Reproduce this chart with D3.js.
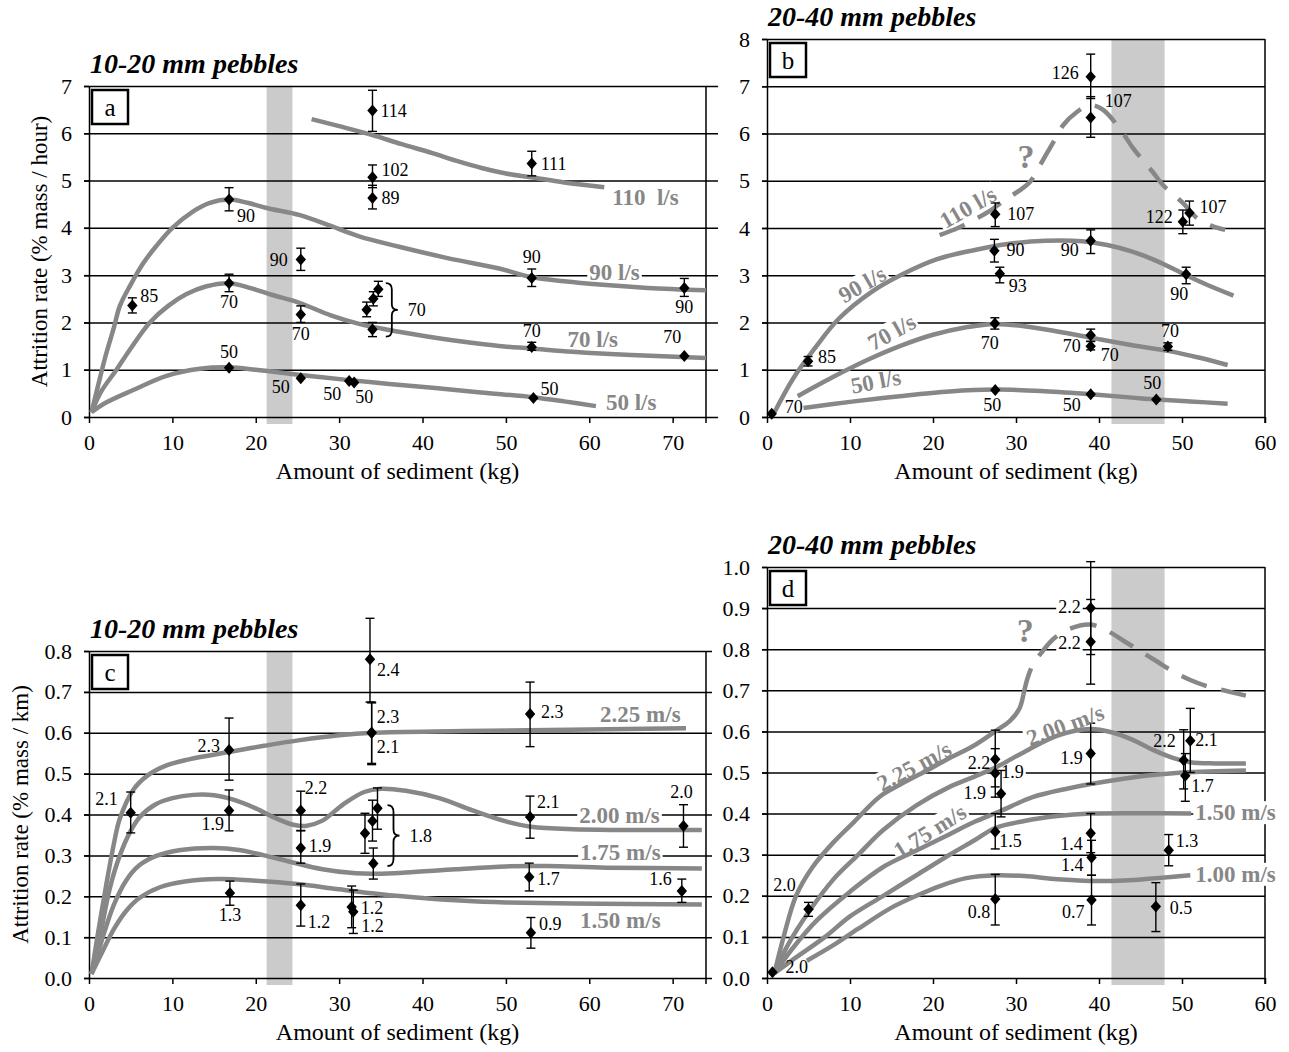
<!DOCTYPE html>
<html>
<head>
<meta charset="utf-8">
<script src="https://cdn.jsdelivr.net/npm/d3@7"></script>
<style>
  body { margin: 0; background: #fff; }
  svg { display: block; }
</style>
</head>
<body>
<svg id="chart" width="1289" height="1052"></svg>
<script>
// ---------------------------------------------------------------
// Attrition rate vs. amount of sediment, four panels (a-d)
// ---------------------------------------------------------------

// Axis ticks
const xTicks10to20 = [0, 10, 20, 30, 40, 50, 60, 70];
const xTicks20to40 = [0, 10, 20, 30, 40, 50, 60];
const yTicksA = [0, 1, 2, 3, 4, 5, 6, 7];
const yTicksB = [0, 1, 2, 3, 4, 5, 6, 7, 8];
const yTicksC = [0, 0.1, 0.2, 0.3, 0.4, 0.5, 0.6, 0.7, 0.8];
const yTicksD = [0, 0.1, 0.2, 0.3, 0.4, 0.5, 0.6, 0.7, 0.8, 0.9, 1.0];

// Shaded sediment ranges (kg)
const bandSmall = [21.3, 24.4];
const bandLarge = [41.5, 47.9];

// Measured points: [sediment kg, attrition rate, error low, error high, discharge / velocity label]
const pointsA = [
  [5.2, 2.36, 2.2, 2.52, "85"],
  [16.8, 4.6, 4.36, 4.85, "90"],
  [16.8, 2.83, 2.65, 3.02, "70"],
  [16.8, 1.04, null, null, "50"],
  [25.4, 3.33, 3.1, 3.57, "90"],
  [25.4, 2.17, 2.0, 2.35, "70"],
  [25.4, 0.82, null, null, "50"],
  [31.2, 0.76, null, null, "50"],
  [31.8, 0.73, null, null, "50"],
  [33.3, 2.27, 2.12, 2.43, ""],
  [34.1, 2.5, 2.35, 2.65, ""],
  [34.7, 2.7, 2.55, 2.87, ""],
  [34.0, 1.85, 1.7, 2.0, ""],
  [34.0, 6.48, 6.04, 6.91, "114"],
  [34.0, 5.07, 4.85, 5.33, "102"],
  [34.0, 4.63, 4.4, 4.9, "89"],
  [53.1, 5.36, 5.1, 5.62, "111"],
  [53.1, 2.94, 2.76, 3.13, "90"],
  [53.1, 1.48, 1.41, 1.58, "70"],
  [53.3, 0.4, null, null, "50"],
  [71.4, 2.73, 2.55, 2.93, "90"],
  [71.4, 1.29, null, null, "70"]
];
const pointsB = [
  [0.57, 0.07, null, null, "70"],
  [4.95, 1.18, 1.08, 1.28, "85"],
  [27.4, 3.52, 3.28, 3.76, "90"],
  [28.05, 3.03, 2.84, 3.17, "93"],
  [27.45, 1.98, 1.86, 2.1, "70"],
  [27.5, 0.57, null, null, "50"],
  [39.0, 3.73, 3.46, 3.96, "90"],
  [39.0, 1.73, 1.6, 1.86, "70"],
  [39.0, 1.5, 1.42, 1.6, "70"],
  [39.0, 0.48, null, null, "50"],
  [48.3, 1.49, 1.41, 1.57, "70"],
  [46.9, 0.37, null, null, "50"],
  [50.5, 3.02, 2.82, 3.17, "90"],
  [39.0, 7.2, 6.74, 7.68, "126"],
  [39.0, 6.34, 5.92, 6.78, "107"],
  [27.5, 4.29, 4.03, 4.53, "107"],
  [50.1, 4.13, 3.88, 4.38, "122"],
  [50.9, 4.32, 4.06, 4.57, "107"]
];
const pointsC = [
  [5.0, 0.404, 0.355, 0.455, "2.1"],
  [16.8, 0.558, 0.484, 0.636, "2.3"],
  [16.8, 0.41, 0.36, 0.46, "1.9"],
  [25.4, 0.41, 0.36, 0.457, "2.2"],
  [25.4, 0.318, 0.281, 0.361, "1.9"],
  [25.4, 0.178, 0.127, 0.23, "1.2"],
  [16.9, 0.208, 0.178, 0.237, "1.3"],
  [31.5, 0.174, 0.123, 0.225, "1.2"],
  [31.7, 0.162, 0.109, 0.215, "1.2"],
  [33.7, 0.78, 0.675, 0.88, "2.4"],
  [33.9, 0.6, 0.525, 0.673, "2.3"],
  [33.9, 0.6, 0.522, 0.675, "2.1"],
  [33.1, 0.354, 0.305, 0.403, ""],
  [34.0, 0.384, 0.335, 0.435, ""],
  [34.6, 0.415, 0.364, 0.465, ""],
  [34.1, 0.28, 0.242, 0.318, ""],
  [52.9, 0.646, 0.566, 0.724, "2.3"],
  [52.9, 0.394, 0.342, 0.445, "2.1"],
  [52.8, 0.247, 0.213, 0.281, "1.7"],
  [53.0, 0.111, 0.073, 0.148, "0.9"],
  [71.3, 0.372, 0.32, 0.424, "2.0"],
  [71.1, 0.213, 0.185, 0.242, "1.6"]
];
const pointsD = [
  [0.66, 0.014, null, null, "2.0"],
  [5.0, 0.167, 0.15, 0.184, "2.0"],
  [27.5, 0.192, 0.129, 0.252, "0.8"],
  [27.5, 0.356, 0.314, 0.4, "1.5"],
  [39.1, 0.19, 0.129, 0.25, "0.7"],
  [39.0, 0.352, 0.305, 0.4, "1.4"],
  [39.1, 0.293, 0.25, 0.335, "1.4"],
  [46.85, 0.174, 0.113, 0.232, "0.5"],
  [48.4, 0.311, 0.273, 0.349, "1.3"],
  [39.0, 0.9, 0.787, 1.013, "2.2"],
  [39.0, 0.818, 0.715, 0.921, "2.2"],
  [39.0, 0.546, 0.472, 0.62, "1.9"],
  [27.5, 0.532, 0.465, 0.603, "2.2"],
  [27.5, 0.498, 0.44, 0.558, "1.9"],
  [28.2, 0.448, 0.392, 0.505, "1.9"],
  [50.2, 0.53, 0.46, 0.604, "2.2"],
  [51.0, 0.577, 0.5, 0.656, "2.1"],
  [50.4, 0.492, 0.43, 0.546, "1.7"]
];

// Trend curves: [label, dashed, [[kg, rate], ...]]
const curvesA = [
  ["110 l/s", false, [[26.7,6.3],[30,6.15],[34,5.96],[37.5,5.77],[41.2,5.58],[44,5.42],[47.2,5.26],[50,5.15],[53,5.07],[57,4.96],[61.8,4.86]]],
  ["90 l/s", false, [[0.3,0.1],[1,0.6],[2,1.3],[3,1.9],[3.7,2.35],[5,2.8],[6.5,3.25],[8,3.6],[10,4.0],[12.5,4.35],[14.5,4.53],[16.8,4.6],[19,4.53],[21.3,4.42],[25.3,4.27],[29,4.04],[32.4,3.82],[37.2,3.6],[43,3.36],[49.2,3.14],[53,2.96],[57,2.87],[61.2,2.8],[67,2.73],[74,2.68]]],
  ["70 l/s", false, [[0.3,0.1],[1.5,0.55],[3.3,1.0],[5,1.45],[7.3,2.0],[9.5,2.35],[11.7,2.6],[14,2.76],[16.8,2.83],[19.5,2.72],[22,2.58],[25.3,2.41],[29,2.15],[32.4,1.97],[36,1.84],[40,1.72],[44.5,1.6],[49.2,1.5],[53,1.45],[58,1.38],[65,1.31],[74,1.25]]],
  ["50 l/s", false, [[0.3,0.1],[2,0.3],[5.3,0.57],[9.3,0.87],[13.3,1.02],[16.8,1.05],[20,1.0],[25.3,0.89],[31.2,0.78],[36,0.7],[41.2,0.62],[47,0.52],[53.2,0.42],[57,0.33],[60.8,0.23]]]
];
const curvesB = [
  ["110 l/s", true, [[20.8,3.85],[23,4.0],[25,4.18],[27,4.38],[28.7,4.6],[30.3,4.78],[31.7,4.98],[32.9,5.33],[34.5,5.82],[35.7,6.18],[37.3,6.45],[38.9,6.6],[40.5,6.5],[42.9,6.0],[44.1,5.69],[46.5,5.18],[47.7,4.91],[50.1,4.53],[51.8,4.21],[53.5,4.05],[55.2,3.96]]],
  ["90 l/s", false, [[0.9,0.1],[3.1,0.8],[5.7,1.44],[8.7,2.09],[12.7,2.66],[16.2,3.01],[20.5,3.34],[24.9,3.53],[29,3.66],[33.5,3.73],[38,3.72],[41,3.64],[44,3.5],[47,3.3],[50.5,3.0],[53,2.8],[56.2,2.57]]],
  ["70 l/s", false, [[3.7,0.44],[8,0.85],[12,1.2],[16,1.5],[20,1.74],[24,1.9],[27.5,1.97],[31,1.92],[35,1.81],[39,1.68],[44,1.52],[48.3,1.4],[52,1.26],[55.5,1.1]]],
  ["50 l/s", false, [[4.4,0.19],[10,0.32],[16,0.44],[22,0.54],[27.4,0.58],[33,0.55],[39,0.48],[44,0.41],[47,0.37],[51,0.33],[55.5,0.28]]]
];
const curvesC = [
  ["2.25 m/s", false, [[0.3,0.01],[1,0.1],[2,0.22],[3,0.33],[3.7,0.39],[5.3,0.46],[7,0.495],[9.3,0.52],[12,0.535],[16.8,0.553],[21,0.568],[25.3,0.582],[30,0.594],[34,0.6],[45,0.604],[60,0.608],[71.6,0.611]]],
  ["2.00 m/s", false, [[0.3,0.01],[1.3,0.1],[2.5,0.22],[3.7,0.3],[5,0.36],[6.1,0.394],[8,0.425],[10,0.44],[12.5,0.448],[15,0.447],[17.5,0.435],[20,0.415],[22.5,0.39],[24.5,0.375],[26,0.372],[28,0.385],[30.5,0.425],[33,0.455],[35,0.463],[38,0.458],[42,0.44],[46,0.41],[50,0.383],[53,0.37],[58,0.364],[73.5,0.362]]],
  ["1.75 m/s", false, [[0.3,0.01],[1.5,0.09],[3,0.18],[4.5,0.24],[6,0.275],[8,0.298],[11,0.313],[15,0.318],[18,0.313],[21,0.3],[24,0.285],[28,0.266],[32,0.256],[34.5,0.255],[38,0.258],[44,0.266],[50,0.273],[55,0.274],[62,0.27],[73.5,0.268]]],
  ["1.50 m/s", false, [[0.3,0.01],[1.5,0.06],[3,0.12],[4.5,0.165],[6,0.195],[8.5,0.222],[11.5,0.236],[15.5,0.242],[20,0.238],[25,0.23],[30,0.217],[35,0.205],[40,0.196],[45,0.189],[50,0.185],[58,0.182],[73.5,0.18]]]
];
const curvesD = [
  ["2.25 m/s", false, [[0.9,0.012],[2,0.1],[3.5,0.2],[5.5,0.27],[8,0.33],[10.5,0.38],[13.5,0.44],[16,0.47],[18.8,0.5],[22,0.535],[24.9,0.565],[27.5,0.6],[29.3,0.626],[30.4,0.655],[30.9,0.69]]],
  ["2.25 m/s (extrapolated)", true, [[30.9,0.69],[31.4,0.73],[32.1,0.765],[33,0.79],[34.5,0.825],[36.5,0.85],[39,0.86],[41,0.845],[43,0.82],[45,0.795],[47,0.77],[49,0.745],[51,0.725],[53,0.71],[55,0.7],[57.7,0.687]]],
  ["2.00 m/s", false, [[0.9,0.012],[2.5,0.08],[5,0.16],[8,0.24],[11,0.3],[14,0.36],[18,0.42],[22,0.465],[25,0.49],[27.5,0.512],[31,0.55],[35,0.59],[39,0.606],[41.5,0.598],[44,0.58],[46.5,0.555],[49,0.535],[51,0.525],[54,0.522],[57.7,0.522]]],
  ["1.75 m/s", false, [[0.9,0.012],[3,0.07],[6,0.14],[10,0.21],[14,0.27],[18,0.31],[22,0.35],[25,0.38],[28,0.405],[32,0.44],[36,0.46],[39,0.472],[44,0.488],[50,0.5],[57.7,0.505]]],
  ["1.50 m/s", false, [[0.9,0.012],[3.5,0.05],[7,0.1],[10,0.15],[14,0.2],[18,0.25],[22,0.3],[25,0.335],[27.5,0.365],[31,0.382],[35,0.394],[39,0.4],[45,0.401],[51.1,0.4]]],
  ["1.00 m/s", false, [[4.8,0.042],[8,0.08],[11,0.12],[14.9,0.17],[18,0.2],[21,0.225],[24,0.243],[27.5,0.25],[31,0.248],[35,0.24],[39,0.236],[43,0.237],[47,0.243],[51,0.25]]]
];

// Grouping braces: [kg, top value, bottom value, label]
const bracesA = [[35.6, 2.83, 1.7, "70"]];
const bracesC = [[35.8, 0.423, 0.274, "1.8"]];

// ---------------------------------------------------------------
// Layout of annotations (pixel offsets / placement in data units)
// ---------------------------------------------------------------
// point label offsets: [dx, dy, anchor, white background]
const labelPosA = [[8,-3,"start"],[8,23,"start"],[0,25,"middle"],[0,-10,"middle"],[-13,6,"end"],[0,26,"middle"],[-20,15,"middle"],[-17,19,"middle"],[10,21,"middle"],null,null,null,null,[8,6,"start"],[9,-1,"start"],[9,6,"start"],[9,6,"start"],[0,-15,"middle"],[0,-10,"middle"],[7,-3,"start"],[0,25,"middle"],[-12,-13,"middle"]];
const labelPosB = [[13,-1,"start"],[10,2,"start"],[12,5,"start"],[9,18,"start"],[-5,26,"middle"],[-3,21,"middle"],[-12,15,"end"],[-10,17,"end"],[10,15,"start"],[-19,17,"middle"],[2,-10,"middle"],[-4,-11,"middle"],[-7,26,"middle"],[-12,2,"end"],[14,-10,"start"],[12,6,"start"],[-10,1,"end"],[10,0,"start"]];
const labelPosC = [[-13,-8,"end"],[-9,2,"end"],[-5,20,"end"],[4,-16,"start"],[8,4,"start"],[7,23,"start"],[0,28,"middle"],[9,7,"start"],[8,20,"start"],[7,17,"start"],[5,-10,"start"],[5,20,"start"],null,null,null,null,[11,4,"start"],[7,-9,"start"],[8,8,"start"],[8,-3,"start"],[-2,-28,"middle"],[-10,-6,"end"]];
const labelPosD = [[13,1,"start"],[-24,-18,"middle"],[-5,19,"end"],[4,15,"start"],[-7,18,"end"],[-8,17,"end"],[-8,13,"end"],[14,8,"start"],[7,-3,"start"],[-10,5,"end",true],[-10,7,"end",true],[-8,10,"end"],[-5,10,"end"],[6,5,"start",true],[-15,5,"end"],[-8,-13,"end"],[5,5,"start"],[6,16,"start"]];

// curve labels: [text, kg, value, angle, placement ("start" = baseline start, "center"), white background]
const curveLabelsA = [
  ["110\u00a0\u00a0l/s", 62.75, 4.48, 0, "start", false],
  ["90 l/s", 60.0, 2.9, 0, "start", true],
  ["70 l/s", 57.4, 1.48, 0, "start", false],
  ["50 l/s", 62.0, 0.15, 0, "start", false]
];
const curveLabelsB = [
  ["110 l/s", 24.2, 4.44, -30, "center", true],
  ["90 l/s", 11.45, 2.81, -30, "center", true],
  ["70 l/s", 15.0, 1.8, -29, "center", true],
  ["50 l/s", 13.1, 0.76, -11, "center", false]
];
const curveLabelsC = [
  ["2.25 m/s", 61.3, 0.626, 0, "start", false],
  ["2.00 m/s", 58.8, 0.379, 0, "start", true],
  ["1.75 m/s", 58.9, 0.289, 0, "start", true],
  ["1.50 m/s", 58.9, 0.122, 0, "start", false]
];
const curveLabelsD = [
  ["2.25 m/s", 17.7, 0.516, -28, "center", true],
  ["2.00 m/s", 35.9, 0.616, -20, "center", true],
  ["1.75 m/s", 19.6, 0.358, -32, "center", true],
  ["1.50 m/s", 51.6, 0.384, 0, "start", true],
  ["1.00 m/s", 51.6, 0.234, 0, "start", true]
];
// question marks on the extrapolated curves: [kg, value]
const queryB = [[31.2, 5.52]];
const queryD = [[31.1, 0.847]];

// ---------------------------------------------------------------
const FONT = '"Liberation Serif","Times New Roman",Times,serif';
const GRAY = "#878787";
const svg = d3.select("#chart");

function addText(layers, cx, cy, str, o) {
  const tr = `translate(${cx},${cy}) rotate(${o.angle || 0})`;
  const t = layers.text.append("text")
    .attr("transform", tr)
    .attr("text-anchor", o.anchor || "start")
    .attr("dy", o.center ? "0.35em" : null)
    .style("font-family", FONT)
    .style("font-size", o.size + "px")
    .style("font-weight", o.weight || "normal")
    .style("font-style", o.italic ? "italic" : "normal")
    .attr("fill", o.fill || "#000")
    .text(str);
  if (o.bg) {
    const b = t.node().getBBox();
    layers.mask.append("rect")
      .attr("transform", tr)
      .attr("x", b.x - 2).attr("y", b.y + 1)
      .attr("width", b.width + 4).attr("height", b.height - 2)
      .attr("fill", "#fff");
  }
  return t;
}

function drawPanel(p) {
  const x = d3.scaleLinear().domain(p.xDomain).range(p.xRange);
  const y = d3.scaleLinear().domain(p.yDomain).range(p.yRange);
  const [x0, x1] = p.xRange;
  const [y0, yT] = p.yRange;
  const root = svg.append("g");
  const layers = {};
  ["band", "grid", "mask", "curves", "marks", "text"].forEach(k => layers[k] = root.append("g"));

  // shaded sediment range
  layers.band.append("rect")
    .attr("x", x(p.band[0])).attr("width", x(p.band[1]) - x(p.band[0]))
    .attr("y", yT).attr("height", y0 + 7 - yT)
    .attr("fill", "#cbcbcb");

  // horizontal gridlines
  const grid = layers.grid.append("g")
    .attr("transform", `translate(${x0 - 5},0)`)
    .call(d3.axisRight(y).tickValues(p.yTicks).tickSize(x1 - x0 + 5 + p.overhang).tickFormat(""));
  grid.select(".domain").remove();
  grid.selectAll("line").attr("stroke", "#000").attr("stroke-width", 1.5);

  // left axis with labels
  const ay = layers.grid.append("g")
    .attr("transform", `translate(${x0},0)`)
    .call(d3.axisLeft(y).tickValues(p.yTicks).tickSize(5).tickSizeOuter(0).tickPadding(12).tickFormat(p.yFormat));
  ay.selectAll("line,path").attr("stroke", "#000").attr("stroke-width", 1.5);
  ay.selectAll("text").style("font-family", FONT).style("font-size", "22px").attr("fill", "#000");

  // bottom axis
  const ax = layers.grid.append("g")
    .attr("transform", `translate(0,${y0})`)
    .call(d3.axisBottom(x).tickValues(p.xTicks).tickSize(6).tickSizeOuter(0).tickPadding(11).tickFormat(d3.format("d")));
  ax.select(".domain").remove();
  ax.selectAll("line").attr("stroke", "#000").attr("stroke-width", 1.5);
  ax.selectAll("text").style("font-family", FONT).style("font-size", "22px").attr("fill", "#000");

  // right frame line
  layers.grid.append("line")
    .attr("x1", x1).attr("x2", x1).attr("y1", yT).attr("y2", y0 + 6)
    .attr("stroke", "#000").attr("stroke-width", 1.5);

  // trend curves
  const line = d3.line().x(d => x(d[0])).y(d => y(d[1])).curve(d3.curveCatmullRom.alpha(0.5));
  layers.curves.selectAll("path.trend").data(p.curves).join("path")
    .attr("class", "trend")
    .attr("d", d => line(d[2]))
    .attr("fill", "none")
    .attr("stroke", GRAY)
    .attr("stroke-width", 4.5)
    .attr("stroke-dasharray", d => d[1] ? "27,15" : null);

  // error bars
  const withErr = p.points.filter(d => d[2] != null);
  const eb = layers.marks.selectAll("g.err").data(withErr).join("g").attr("class", "err");
  eb.append("line").attr("x1", d => x(d[0])).attr("x2", d => x(d[0]))
    .attr("y1", d => y(d[2])).attr("y2", d => y(d[3]));
  eb.append("line").attr("x1", d => x(d[0]) - 4.5).attr("x2", d => x(d[0]) + 4.5)
    .attr("y1", d => y(d[2])).attr("y2", d => y(d[2]));
  eb.append("line").attr("x1", d => x(d[0]) - 4.5).attr("x2", d => x(d[0]) + 4.5)
    .attr("y1", d => y(d[3])).attr("y2", d => y(d[3]));
  eb.selectAll("line").attr("stroke", "#000").attr("stroke-width", 1.4);

  // diamond markers
  layers.marks.selectAll("path.pt").data(p.points).join("path")
    .attr("class", "pt")
    .attr("transform", d => `translate(${x(d[0])},${y(d[1])})`)
    .attr("d", "M0,-6L5.2,0L0,6L-5.2,0Z")
    .attr("fill", "#000");

  // point labels
  p.points.forEach((d, i) => {
    const pos = p.labelPos[i];
    if (!pos || !d[4]) return;
    addText(layers, x(d[0]) + pos[0], y(d[1]) + pos[1], d[4],
      { size: 18, anchor: pos[2], bg: !!pos[3] });
  });

  // braces grouping repeated runs
  p.braces.forEach(b => {
    const bx = x(b[0]), ya = y(b[1]), yb = y(b[2]), ym = (ya + yb) / 2, w = 12, h = yb - ya;
    const mx = bx + w / 2;
    layers.marks.append("path")
      .attr("d", `M${bx},${ya} Q${mx},${ya} ${mx},${ya + h * 0.12} L${mx},${ym - h * 0.1} Q${mx},${ym} ${bx + w},${ym} Q${mx},${ym} ${mx},${ym + h * 0.1} L${mx},${yb - h * 0.12} Q${mx},${yb} ${bx},${yb}`)
      .attr("fill", "none").attr("stroke", "#000").attr("stroke-width", 1.8);
    addText(layers, bx + w + 10, ym + 6, b[3], { size: 18 });
  });

  // curve labels
  p.curveLabels.forEach(c => {
    addText(layers, x(c[1]), y(c[2]), c[0], {
      size: 23, weight: "bold", fill: GRAY, angle: c[3],
      anchor: c[4] === "center" ? "middle" : "start", center: c[4] === "center", bg: c[5]
    });
  });
  p.queries.forEach(q => {
    addText(layers, x(q[0]), y(q[1]), "?", { size: 34, weight: "bold", fill: GRAY, anchor: "middle", center: true });
  });

  // panel letter box
  layers.text.append("rect")
    .attr("x", x0 + 3).attr("y", yT + 4).attr("width", 36).attr("height", 34)
    .attr("fill", "#fff").attr("stroke", "#000").attr("stroke-width", 2.5);
  addText(layers, x0 + 21, yT + 21, p.letter, { size: 25, anchor: "middle", center: true });

  // panel title
  addText(layers, x0 + 1, yT - 13, p.title, { size: 28, weight: "bold", italic: true });

  // axis titles
  addText(layers, (x0 + x1) / 2, y0 + 62, "Amount of sediment (kg)", { size: 24, anchor: "middle" });
  if (p.yTitle) {
    addText(layers, p.yTitleX, (y0 + yT) / 2, p.yTitle, { size: 23, anchor: "middle", center: true, angle: -90 });
  }
}

const fmtInt = d3.format("d");
const fmt1 = d3.format(".1f");

drawPanel({
  xDomain: [0, 74], xRange: [89, 706], yDomain: [0, 7], yRange: [417, 86],
  xTicks: xTicks10to20, yTicks: yTicksA, yFormat: fmtInt, overhang: 12,
  band: bandSmall, points: pointsA, labelPos: labelPosA, curves: curvesA,
  curveLabels: curveLabelsA, braces: bracesA, queries: [],
  letter: "a", title: "10-20 mm pebbles", yTitle: "Attrition rate (% mass / hour)", yTitleX: 39
});
drawPanel({
  xDomain: [0, 60], xRange: [767, 1265], yDomain: [0, 8], yRange: [417, 39],
  xTicks: xTicks20to40, yTicks: yTicksB, yFormat: fmtInt, overhang: 0,
  band: bandLarge, points: pointsB, labelPos: labelPosB, curves: curvesB,
  curveLabels: curveLabelsB, braces: [], queries: queryB,
  letter: "b", title: "20-40 mm pebbles", yTitle: null
});
drawPanel({
  xDomain: [0, 74], xRange: [89, 706], yDomain: [0, 0.8], yRange: [978, 651],
  xTicks: xTicks10to20, yTicks: yTicksC, yFormat: fmt1, overhang: 6,
  band: bandSmall, points: pointsC, labelPos: labelPosC, curves: curvesC,
  curveLabels: curveLabelsC, braces: bracesC, queries: [],
  letter: "c", title: "10-20 mm pebbles", yTitle: "Attrition rate (% mass / km)", yTitleX: 20
});
drawPanel({
  xDomain: [0, 60], xRange: [767, 1265], yDomain: [0, 1.0], yRange: [978, 567],
  xTicks: xTicks20to40, yTicks: yTicksD, yFormat: fmt1, overhang: 0,
  band: bandLarge, points: pointsD, labelPos: labelPosD, curves: curvesD,
  curveLabels: curveLabelsD, braces: [], queries: queryD,
  letter: "d", title: "20-40 mm pebbles", yTitle: null
});
</script>
</body>
</html>
